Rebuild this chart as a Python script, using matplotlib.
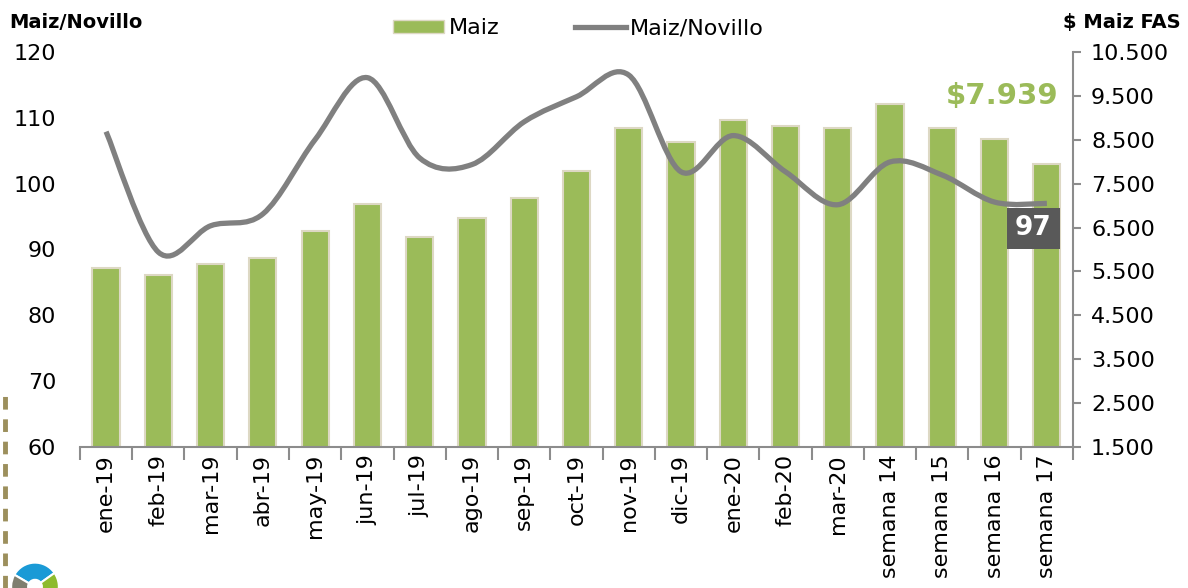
import numpy as np
import matplotlib
matplotlib.use('Agg')
import matplotlib.pyplot as plt
from matplotlib.path import Path
from matplotlib.patches import PathPatch, Patch, Wedge
from matplotlib.lines import Line2D

# Data
categories = ['ene-19', 'feb-19', 'mar-19', 'abr-19', 'may-19', 'jun-19',
              'jul-19', 'ago-19', 'sep-19', 'oct-19', 'nov-19', 'dic-19',
              'ene-20', 'feb-20', 'mar-20', 'semana 14', 'semana 15',
              'semana 16', 'semana 17']
maiz_fas = [5580, 5420, 5670, 5800, 6420, 7030, 6280, 6710, 7170, 7790,
            8770, 8450, 8950, 8810, 8770, 9310, 8770, 8520, 7939]
maiz_novillo = [107.9, 89.6, 93.6, 95.4, 106.7, 116.1, 103.9, 102.9, 109.4,
                113.2, 116.5, 101.8, 107.3, 101.8, 96.8, 103.3, 101.3, 97.2,
                97.0]
left_ticks = [60, 70, 80, 90, 100, 110, 120]
right_ticks = [1500, 2500, 3500, 4500, 5500, 6500, 7500, 8500, 9500, 10500]

# Style
green = '#9BBB59'
bar_edge = '#DDD8C4'
gray_line = '#808080'
axis_gray = '#8C8C8C'
plt.rcParams['font.family'] = ['DejaVu Sans']

fig = plt.figure(figsize=(11.88, 5.88), dpi=100)
ax = fig.add_axes([0.0673, 0.2398, 0.8359, 0.6718])
ax2 = ax.twinx()

x = np.arange(len(categories))

# Bars on right axis (ax), line on left axis (ax2, drawn on top)
ax.bar(x, maiz_fas, width=0.52, bottom=0, color=green,
       edgecolor=bar_edge, linewidth=1.5, zorder=2)
ax.set_ylim(1500, 10500)
ax.set_xlim(-0.5, len(categories) - 0.5)
ax.yaxis.tick_right()
ax.yaxis.set_label_position('right')
ax.set_yticks(right_ticks)
ax.set_yticklabels([f'{v:,}'.replace(',', '.') for v in right_ticks],
                   fontsize=16)
ax.tick_params(axis='y', direction='out', length=6, width=1.5,
               color=axis_gray, pad=7)

ax2.yaxis.tick_left()
ax2.set_ylim(60, 120)
ax2.set_yticks(left_ticks)
ax2.set_yticklabels([str(v) for v in left_ticks], fontsize=16)
ax2.tick_params(axis='y', length=0, pad=17)

# Smoothed line (Excel style Bezier through the points)
pts = np.column_stack([x, maiz_novillo]).astype(float)
verts = [pts[0]]
codes = [Path.MOVETO]
n = len(pts)
for i in range(n - 1):
    p0 = pts[i - 1] if i > 0 else pts[i]
    p1 = pts[i]
    p2 = pts[i + 1]
    p3 = pts[i + 2] if i + 2 < n else pts[i + 1]
    c1 = p1 + (p2 - p0) / 6.0
    c2 = p2 - (p3 - p1) / 6.0
    verts += [c1, c2, p2]
    codes += [Path.CURVE4] * 3
path = Path(verts, codes)
ax2.add_patch(PathPatch(path, facecolor='none', edgecolor=gray_line,
                        linewidth=3.8, capstyle='butt', joinstyle='round',
                        transform=ax2.transData, zorder=3))

# Spines
for a in (ax, ax2):
    for s in a.spines.values():
        s.set_visible(False)
ax.spines['right'].set_visible(True)
ax.spines['right'].set_color(axis_gray)
ax.spines['right'].set_linewidth(1.5)
ax.spines['bottom'].set_visible(True)
ax.spines['bottom'].set_color(axis_gray)
ax.spines['bottom'].set_linewidth(1.5)

# X axis
ax.set_xticks(x)
ax.set_xticklabels(categories, rotation=90, fontsize=16)
ax.set_xticks(np.arange(-0.5, len(categories), 1.0), minor=True)
ax.tick_params(axis='x', which='major', length=0, pad=5)
ax.tick_params(axis='x', which='minor', length=9, width=1.5,
               color=axis_gray, direction='out')
ax2.set_xlim(ax.get_xlim())

# Titles of axes
fig.text(0.008, 0.962, 'Maiz/Novillo', fontsize=14, fontweight='bold',
         ha='left', va='center')
fig.text(0.994, 0.962, '$ Maiz FAS', fontsize=14, fontweight='bold',
         ha='right', va='center')

# Annotations
ax.text(17.15, 9500, '$7.939', color=green,
        fontsize=21, fontweight='bold', ha='center', va='center')
ax2.text(17.74, maiz_novillo[-1] - 3.8, '97', color='white',
         fontsize=19, fontweight='bold', ha='center', va='center',
         bbox=dict(boxstyle='square,pad=0.3', facecolor='#595959',
                   edgecolor='none'), zorder=5)

# Legend
handles = [Patch(facecolor=green, edgecolor=bar_edge, label='Maiz'),
           Line2D([0], [0], color=gray_line, linewidth=3.8,
                  label='Maiz/Novillo')]
fig.legend(handles=handles, loc='center', bbox_to_anchor=(0.487, 0.952),
           ncol=2, frameon=False, fontsize=16, handlelength=2.3,
           handleheight=0.55, handletextpad=0.2, columnspacing=3.4)

# Decorative dashed line at the left edge
fig.add_artist(Line2D([0.0045, 0.0045], [0.0, 0.33], color='#9C8F5C',
                      linewidth=3.5, linestyle=(0, (2.6, 2.0)),
                      transform=fig.transFigure))

# Small logo at the bottom left
lax = fig.add_axes([10 / 1188, 0.0, 50 / 1188, 30 / 588])
lax.set_xlim(-1.1, 1.1)
lax.set_ylim(-1.3, 0.0)
lax.axis('off')
lax.add_patch(Wedge((0, -1.25), 1.05, 35, 150, facecolor='#1A9AD6',
                    edgecolor='white', linewidth=1.5))
lax.add_patch(Wedge((0, -1.25), 1.05, 150, 260, facecolor='#7F7F70',
                    edgecolor='white', linewidth=1.5))
lax.add_patch(Wedge((0, -1.25), 1.05, -80, 35, facecolor='#8DBB2E',
                    edgecolor='white', linewidth=1.5))
lax.add_patch(Wedge((0, -1.25), 0.35, 0, 360, facecolor='white',
                    edgecolor='none'))

fig.savefig('out.png', dpi=100)
